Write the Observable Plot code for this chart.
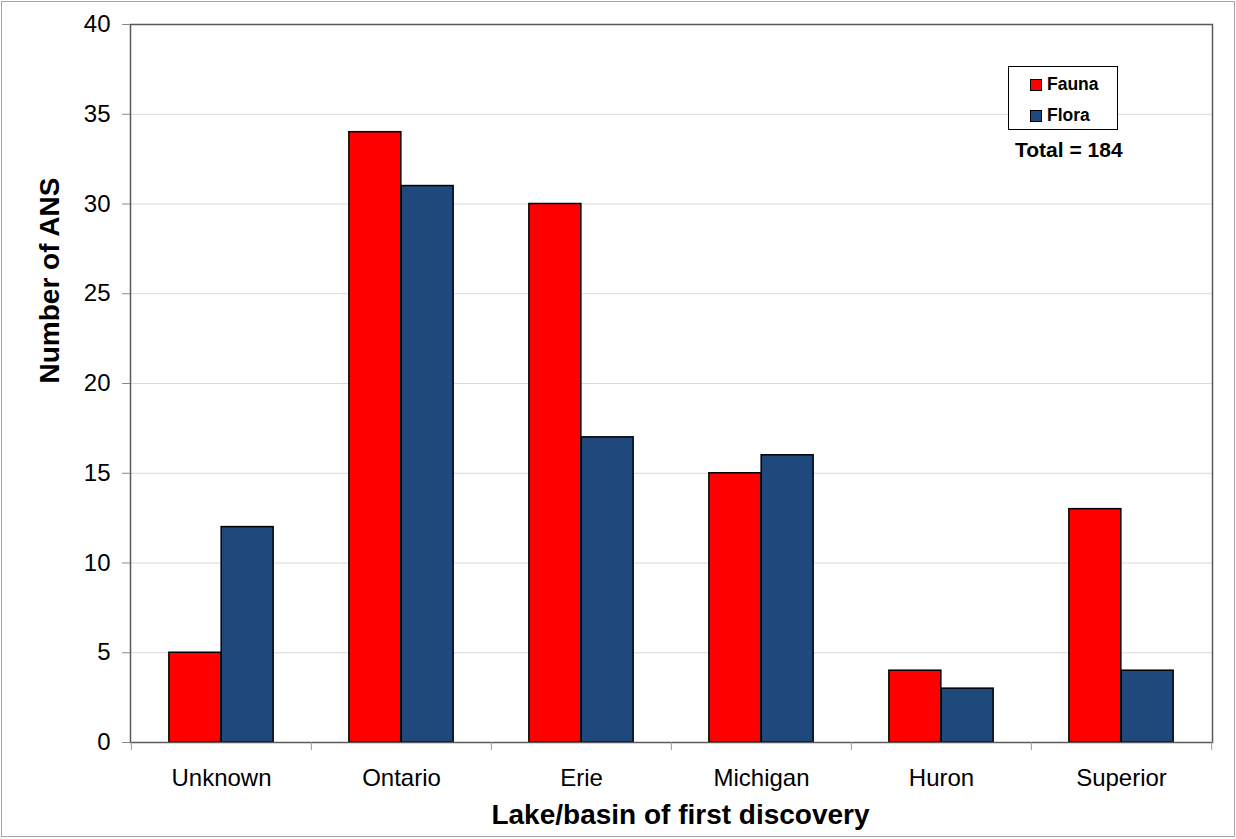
<!DOCTYPE html>
<html>
<head>
<meta charset="utf-8">
<script src="https://cdn.jsdelivr.net/npm/d3@7"></script>
<script src="https://cdn.jsdelivr.net/npm/@observablehq/plot@0.6"></script>
<style>
  html, body { margin: 0; padding: 0; background: #fff; }
  body { width: 1236px; height: 839px; position: relative; overflow: hidden; font-family: "Liberation Sans", Arial, sans-serif; }
  #chart { position: absolute; left: 0; top: 0; }
  #border { position: absolute; left: 1px; top: 1px; width: 1232px; height: 834px; border: 1.5px solid #a6a6a6; pointer-events: none; }
  #legend { position: absolute; left: 1008px; top: 66px; width: 110px; height: 64px; border: 1px solid #000; background: #fff; box-sizing: border-box; }
  .item { position: absolute; left: 21px; font-weight: bold; font-size: 17.5px; line-height: 17px; color: #000; }
  .sw { display: inline-block; width: 10px; height: 10px; border: 1px solid #000; vertical-align: -1px; margin-right: 5px; }
  #total { position: absolute; left: 1015px; top: 138px; font-weight: bold; font-size: 21px; color: #000; }
</style>
</head>
<body>
<div id="chart"></div>
<div id="legend"></div>
<div id="total"></div>
<div id="border"></div>
<script>
const categories = ["Unknown", "Ontario", "Erie", "Michigan", "Huron", "Superior"];
const fauna = [5, 34, 30, 15, 4, 13];
const flora = [12, 31, 17, 16, 3, 4];
const seriesNames = ["Fauna", "Flora"];
const seriesColors = ["#FF0000", "#1F497D"];
const yTicks = [0, 5, 10, 15, 20, 25, 30, 35, 40];
const xTitle = "Lake/basin of first discovery";
const yTitle = "Number of ANS";
const totalLabel = "Total = 184";

const W = 1236, H = 839, mL = 130, mR = 24, mT = 24, mB = 97;
const bw = (W - mL - mR) / categories.length;

const faunaData = categories.map((c, i) => ({cat: c, value: fauna[i]}));
const floraData = categories.map((c, i) => ({cat: c, value: flora[i]}));

const chart = Plot.plot({
  width: W, height: H,
  marginLeft: mL, marginRight: mR, marginTop: mT, marginBottom: mB,
  style: {fontFamily: '"Liberation Sans", Arial, sans-serif', color: "#000", background: "transparent"},
  x: {domain: categories, padding: 0, label: null},
  y: {domain: [0, 40], label: null},
  marks: [
    Plot.gridY(yTicks.filter(d => d > 0 && d < 40), {stroke: "#d9d9d9", strokeOpacity: 1, strokeWidth: 1}),
    Plot.barY(faunaData, {x: "cat", y: "value", fill: seriesColors[0], stroke: "#000", strokeWidth: 1.5,
      insetLeft: bw * 0.21, insetRight: bw * 0.50}),
    Plot.barY(floraData, {x: "cat", y: "value", fill: seriesColors[1], stroke: "#000", strokeWidth: 1.5,
      insetLeft: bw * 0.50, insetRight: bw * 0.21}),
    Plot.frame({stroke: "#595959", strokeWidth: 1.5}),
    Plot.axisY({ticks: yTicks, tickSize: 8, tickPadding: 12, fontSize: 24, stroke: "#888", label: null}),
    Plot.axisX({tickSize: 0, tickPadding: 26, fontSize: 24, label: null}),
    Plot.axisX({tickSize: 8, tickFormat: () => "", dx: -bw / 2, stroke: "#999", label: null}),
    Plot.axisX({ticks: [categories[categories.length - 1]], tickSize: 8, tickFormat: () => "", dx: bw / 2, stroke: "#999", label: null}),
    Plot.text([xTitle], {frameAnchor: "bottom", dy: 73, lineAnchor: "middle", fontSize: 28, fontWeight: "bold", fill: "#000", text: d => d, dx: 9}),
    Plot.text([yTitle], {frameAnchor: "left", dx: -80, rotate: -90, lineAnchor: "middle", fontSize: 28, fontWeight: "bold", fill: "#000", text: d => d})
  ]
});
document.getElementById("chart").appendChild(chart);

const legend = document.getElementById("legend");
seriesNames.forEach((name, i) => {
  const item = document.createElement("div");
  item.className = "item";
  item.style.top = (9 + i * 31) + "px";
  const sw = document.createElement("span");
  sw.className = "sw";
  sw.style.background = seriesColors[i];
  item.appendChild(sw);
  item.appendChild(document.createTextNode(name));
  legend.appendChild(item);
});
document.getElementById("total").textContent = totalLabel;
</script>
</body>
</html>
